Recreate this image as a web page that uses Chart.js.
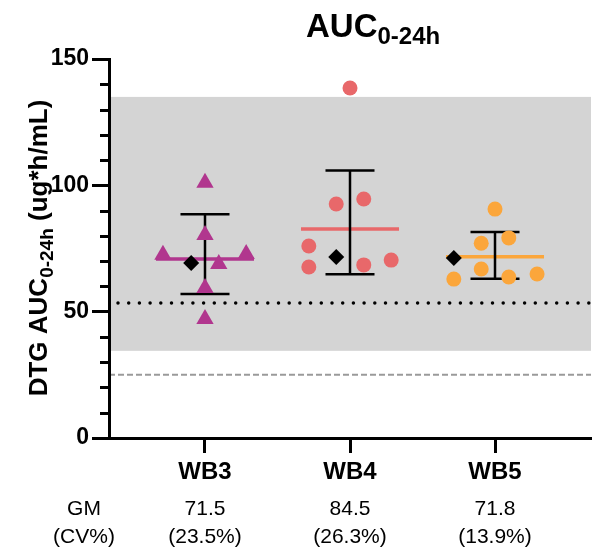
<!DOCTYPE html>
<html>
<head>
<meta charset="utf-8">
<script src="https://cdn.jsdelivr.net/npm/chart.js@4.4.0/dist/chart.umd.min.js"></script>
<style>
  body { margin: 0; background: #fff; }
  #wrap { width: 601px; height: 552px; position: relative; }
</style>
</head>
<body>
<div id="wrap"><canvas id="aucChart"></canvas></div>
<script>
const groups = ['WB3', 'WB4', 'WB5'];
const gmLabels = ['71.5', '84.5', '71.8'];
const cvLabels = ['(23.5%)', '(26.3%)', '(13.9%)'];
const groupColors = ['#B1368E', '#E8686A', '#FBA63B'];

// individual subjects, x = group position + jitter
const wb3X = [1, 1, 0.71, 1.284, 1.095, 1, 1];
const wb3Y = [101, 80.3, 72.5, 72.8, 68.9, 59.4, 47.1];
const wb4X = [2, 1.905, 2.095, 1.716, 1.716, 2.095, 2.284];
const wb4Y = [138.5, 92.6, 94.6, 76, 67.7, 68.5, 70.4];
const wb5X = [3, 2.905, 3.095, 2.905, 2.716, 3.095, 3.29];
const wb5Y = [90.6, 77.1, 79.2, 66.9, 62.9, 63.7, 64.9];

// summary lines
const meanVals = [70.8, 82.7, 71.7];
const errLow = [57, 64.8, 63];
const errHigh = [88.6, 105.9, 81.5];

// black diamonds
const diamondX = [0.905, 1.905, 2.716];
const diamondY = [69.3, 71.6, 71.2];

// reference band / lines
const rangeLow = 34.5;
const rangeHigh = 135;
const dottedRef = 53.4;
const dashedRef = 25;

const toPoints = (xs, ys) => xs.map((x, i) => ({ x: x, y: ys[i] }));

Chart.defaults.font.family = "'Liberation Sans', Arial, sans-serif";

const decor = {
    id: 'decor',
    beforeDatasetsDraw(chart) {
        const { ctx, chartArea: a, scales: { x, y } } = chart;
        ctx.save();
        // gray target range
        const top = y.getPixelForValue(rangeHigh);
        const bot = y.getPixelForValue(rangeLow);
        ctx.fillStyle = '#D4D4D4';
        ctx.fillRect(a.left, top, a.right - a.left, bot - top);

        // dashed grey line
        ctx.strokeStyle = '#9A9A9A';
        ctx.lineWidth = 2;
        ctx.setLineDash([6, 3]);
        const yd = y.getPixelForValue(dashedRef);
        ctx.beginPath();
        ctx.moveTo(a.left, yd);
        ctx.lineTo(a.right, yd);
        ctx.stroke();

        // dotted black line
        ctx.strokeStyle = '#000';
        ctx.lineWidth = 3.5;
        ctx.lineCap = 'round';
        ctx.setLineDash([0, 10.7]);
        const yt = y.getPixelForValue(dottedRef);
        ctx.beginPath();
        ctx.moveTo(a.left + 9, yt);
        ctx.lineTo(a.right, yt);
        ctx.stroke();
        ctx.setLineDash([]);
        ctx.lineCap = 'butt';

        // mean lines
        groups.forEach((g, i) => {
            const cx = i + 1;
            const ym = y.getPixelForValue(meanVals[i]);
            ctx.strokeStyle = groupColors[i];
            ctx.lineWidth = 3.5;
            ctx.beginPath();
            ctx.moveTo(x.getPixelForValue(cx - 0.338), ym);
            ctx.lineTo(x.getPixelForValue(cx + 0.338), ym);
            ctx.stroke();
        });

        // error bars
        ctx.strokeStyle = '#000';
        ctx.lineWidth = 2.5;
        groups.forEach((g, i) => {
            const cx = i + 1;
            const px = x.getPixelForValue(cx);
            const l = x.getPixelForValue(cx - 0.169);
            const r = x.getPixelForValue(cx + 0.169);
            const yh = y.getPixelForValue(errHigh[i]);
            const yl = y.getPixelForValue(errLow[i]);
            ctx.beginPath();
            ctx.moveTo(px, yh); ctx.lineTo(px, yl);
            ctx.moveTo(l, yh); ctx.lineTo(r, yh);
            ctx.moveTo(l, yl); ctx.lineTo(r, yl);
            ctx.stroke();
        });
        ctx.restore();
    },
    afterDraw(chart) {
        const { ctx, chartArea: a, scales: { x, y } } = chart;
        ctx.save();
        // minor ticks on y
        ctx.strokeStyle = '#000';
        ctx.lineWidth = 3;
        for (let v = 10; v < 150; v += 10) {
            if (v % 50 === 0) continue;
            const py = Math.round(y.getPixelForValue(v)) + 0.5;
            ctx.beginPath();
            ctx.moveTo(a.left - 9, py);
            ctx.lineTo(a.left, py);
            ctx.stroke();
        }

        ctx.fillStyle = '#000';
        // title with subscript
        ctx.textBaseline = 'alphabetic';
        ctx.textAlign = 'left';
        ctx.font = "bold 33px 'Liberation Sans', Arial, sans-serif";
        const t1 = 'AUC';
        const w1 = ctx.measureText(t1).width;
        ctx.fillText(t1, 306, 37);
        ctx.font = "bold 24px 'Liberation Sans', Arial, sans-serif";
        ctx.fillText('0-24h', 306 + w1, 44);

        // y axis title (rotated)
        const yl1 = 'DTG AUC';
        const ysub = '0-24h';
        const yl2 = ' (ug*h/mL)';
        const bigF = "bold 26px 'Liberation Sans', Arial, sans-serif";
        const subF = "bold 19px 'Liberation Sans', Arial, sans-serif";
        ctx.font = bigF;
        const a1 = ctx.measureText(yl1).width;
        const a3 = ctx.measureText(yl2).width;
        ctx.font = subF;
        const a2 = ctx.measureText(ysub).width;
        const total = a1 + a2 + a3;
        ctx.translate(47, 248);
        ctx.rotate(-Math.PI / 2);
        let sx = -total / 2;
        ctx.font = bigF;
        ctx.fillText(yl1, sx, 0);
        sx += a1;
        ctx.font = subF;
        ctx.fillText(ysub, sx, 6);
        sx += a2;
        ctx.font = bigF;
        ctx.fillText(yl2, sx, 0);
        ctx.setTransform(1, 0, 0, 1, 0, 0);

        // GM / CV rows
        ctx.font = "21px 'Liberation Sans', Arial, sans-serif";
        ctx.textAlign = 'center';
        ctx.textBaseline = 'middle';
        ctx.fillText('GM', 84, 509);
        ctx.fillText('(CV%)', 84, 537);
        groups.forEach((g, i) => {
            const px = x.getPixelForValue(i + 1);
            ctx.fillText(gmLabels[i], px, 509);
            ctx.fillText(cvLabels[i], px, 537);
        });
        ctx.restore();
    }
};

const ctx = document.getElementById('aucChart').getContext('2d');
new Chart(ctx, {
    type: 'scatter',
    data: {
        datasets: [
            {
                label: 'marker',
                data: toPoints(diamondX, diamondY),
                pointStyle: 'rectRot',
                pointRadius: 8,
                backgroundColor: '#000',
                borderWidth: 0,
                order: 0
            },
            {
                label: 'WB3',
                data: toPoints(wb3X, wb3Y),
                pointStyle: 'triangle',
                pointRadius: 10,
                backgroundColor: groupColors[0],
                borderWidth: 0,
                order: 1
            },
            {
                label: 'WB4',
                data: toPoints(wb4X, wb4Y),
                pointStyle: 'circle',
                pointRadius: 7.5,
                backgroundColor: groupColors[1],
                borderWidth: 0,
                order: 1
            },
            {
                label: 'WB5',
                data: toPoints(wb5X, wb5Y),
                pointStyle: 'circle',
                pointRadius: 7.5,
                backgroundColor: groupColors[2],
                borderWidth: 0,
                order: 1
            }
        ]
    },
    options: {
        responsive: true,
        maintainAspectRatio: false,
        animation: false,
        layout: { padding: { top: 59, left: 0, right: 0, bottom: 0 } },
        plugins: {
            legend: { display: false },
            tooltip: { enabled: false }
        },
        scales: {
            x: {
                type: 'linear',
                min: 0.338,
                max: 3.662,
                afterBuildTicks: s => { s.ticks = groups.map((g, i) => ({ value: i + 1 })); },
                afterFit: s => { s.height = 114; },
                grid: { drawOnChartArea: false, tickLength: 15, tickWidth: 3, tickColor: '#000' },
                border: { color: '#000', width: 3, z: 1 },
                ticks: {
                    callback: v => groups[Math.round(v) - 1],
                    font: { size: 24, weight: 'bold' },
                    color: '#000',
                    padding: 5,
                    maxRotation: 0,
                    autoSkip: false
                }
            },
            y: {
                min: 0,
                max: 150,
                afterFit: s => { s.width = 109; },
                grid: { drawOnChartArea: false, tickLength: 17, tickWidth: 3, tickColor: '#000' },
                border: { color: '#000', width: 3, z: 1 },
                ticks: {
                    stepSize: 50,
                    font: { size: 23, weight: 'bold' },
                    color: '#000',
                    padding: 3
                }
            }
        }
    },
    plugins: [decor]
});
</script>
</body>
</html>
